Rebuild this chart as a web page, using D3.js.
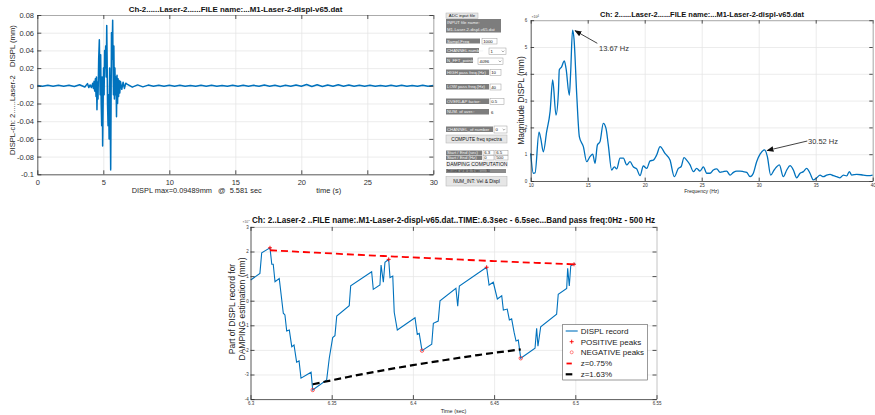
<!DOCTYPE html>
<html>
<head>
<meta charset="utf-8">
<script src="https://cdn.jsdelivr.net/npm/d3@7"></script>
<style>
  body { margin: 0; background: #fff; }
  svg { display: block; }
</style>
</head>
<body>
<svg id="c" width="875" height="415"></svg>
<script>
// ---------------- Data ----------------
// Channel 2 displacement record (time s, displacement mm)
const traceQuietPre = [
  [0,0.0004],[0.4,-0.0005],[0.8,0.0006],[1.2,-0.0004],[1.6,0.0005],[2.0,-0.0006],
  [2.4,0.0007],[2.8,-0.0008],[3.2,0.0012],[3.6,-0.0014],[3.8,0.0025],[3.9,-0.002]
];
const traceBurst = [
  [4.00,0.001],[4.10,-0.002],[4.20,0.003],[4.25,-0.003],[4.30,0.005],[4.35,-0.006],
  [4.40,0.008],[4.45,-0.012],[4.48,0.010],[4.52,-0.027],[4.56,0.004],[4.60,-0.015],
  [4.65,0.030],[4.70,0.052],[4.73,0.020],[4.76,-0.010],[4.80,0.035],[4.84,-0.020],
  [4.88,-0.045],[4.92,0.010],[4.95,-0.068],[4.98,-0.030],[5.02,0.020],[5.06,-0.010],
  [5.10,0.040],[5.14,0.020],[5.18,0.045],[5.22,0.010],[5.26,0.068],[5.29,0.030],
  [5.32,-0.020],[5.36,-0.045],[5.40,-0.010],[5.44,-0.060],[5.48,0.020],[5.52,-0.030],
  [5.56,-0.095],[5.59,-0.020],[5.62,0.060],[5.66,0.030],[5.71,0.074],[5.74,0.020],
  [5.77,-0.010],[5.80,0.045],[5.84,-0.015],[5.88,0.020],[5.92,-0.010],[5.96,0.010],
  [6.00,-0.035],[6.04,0.012],[6.08,-0.020],[6.12,0.008],[6.16,-0.012],[6.20,0.006],
  [6.25,-0.008],[6.30,0.005],[6.40,-0.004],[6.50,0.004],[6.60,-0.003],[6.70,0.003]
];
const traceQuietPost = [
  [6.8,0.002],[7.2,-0.0015],[7.6,0.001],[8.0,-0.0012],[8.4,0.0008],[8.8,-0.0006],
  [9.2,0.0007],[9.6,-0.0005],[10.0,0.0006],[10.4,-0.0004],[10.8,0.0005],[11.2,-0.0006],
  [11.6,0.0004],[12.0,-0.0005],[12.4,0.0006],[12.8,-0.0004],[13.2,0.0005],[13.6,-0.0006],
  [14.0,0.0004],[14.4,-0.0005],[14.8,0.0006],[15.2,-0.0005],[15.6,0.0007],[16.0,-0.0004],
  [16.4,0.0005],[16.8,-0.0006],[17.2,0.0008],[17.6,-0.0005],[18.0,0.0006],[18.4,-0.0007],
  [18.8,0.0005],[19.2,-0.0004],[19.6,0.0009],[20.0,-0.0006],[20.4,0.0015],[20.8,-0.0008],
  [21.2,0.0012],[21.6,-0.0007],[22.0,0.0010],[22.4,-0.0006],[22.8,0.0011],[23.2,-0.0005],
  [23.6,0.0008],[24.0,-0.0006],[24.4,0.0005],[24.8,-0.0004],[25.2,0.0005],[25.6,-0.0006],
  [26.0,0.0004],[26.4,-0.0005],[26.8,0.0006],[27.2,-0.0004],[27.6,0.0005],[28.0,-0.0005],
  [28.4,0.0004],[28.8,-0.0006],[29.2,0.0005],[29.6,-0.0004],[30.0,0.0003]
];
const timeTicks = [0, 5, 10, 15, 20, 25, 30];
const displTicks = [-0.1, -0.08, -0.06, -0.04, -0.02, 0, 0.02, 0.04, 0.06, 0.08];

// Amplitude spectrum (Hz, magnitude x1e-4 mm)
const specFreq = [10.00,10.23,10.38,10.73,10.88,11.11,11.40,11.70,11.93,12.22,12.43,12.51,12.70,12.95,13.10,13.39,13.50,13.67,13.80,14.04,
  14.27,14.62,14.91,15.20,15.44,15.64,15.85,16.08,16.37,16.60,16.81,17.10,17.34,17.54,17.84,18.13,18.42,18.71,19.00,19.30,
  19.59,19.88,20.18,20.47,20.76,21.05,21.35,21.78,22.22,22.60,22.95,23.19,23.45,23.68,23.98,24.27,24.56,24.85,25.15,25.44,
  25.73,26.02,26.32,26.61,26.90,27.19,27.49,27.78,28.07,28.36,28.65,28.95,29.24,29.53,29.82,30.12,30.52,30.76,31.05,31.35,
  31.58,31.81,32.16,32.46,32.75,33.04,33.33,33.63,33.92,34.21,34.50,34.80,35.09,35.38,35.67,35.96,36.26,36.55,36.84,37.13,
  37.43,37.72,37.95,38.16,38.60,39.18,39.62,40.00];
const specMag = [1.03,0.29,0.30,1.82,1.59,1.09,1.84,2.59,3.77,2.46,3.30,4.15,4.25,4.48,4.20,3.20,4.00,5.63,5.30,3.20,
  1.65,1.28,0.72,0.91,1.00,0.66,1.34,1.47,2.15,1.97,1.34,0.41,0.53,0.45,0.85,0.85,0.60,0.72,0.53,0.45,
  0.20,0.56,0.47,0.75,0.78,0.97,1.28,1.03,0.78,0.16,0.47,0.53,0.87,0.78,0.60,0.35,0.47,0.37,0.53,0.29,
  0.29,0.41,0.45,0.32,0.35,0.37,0.22,0.32,0.37,0.37,0.35,0.32,0.16,0.29,0.72,1.00,1.16,0.91,0.22,0.41,
  0.53,0.60,0.16,0.41,0.57,0.41,0.12,0.29,0.35,0.47,0.29,0.04,0.12,0.22,0.16,0.22,0.25,0.20,0.16,0.12,
  0.22,0.19,0.35,0.22,0.25,0.22,0.20,0.22];
const freqTicks = [10, 15, 20, 25, 30, 35, 40];
const magTicks = [0, 1, 2, 3, 4, 5, 6];
const peakMarks = [{f: 13.67, m: 5.63, label: '13.67 Hz'}, {f: 30.52, m: 1.16, label: '30.52 Hz'}];

// Damping window 6.3 - 6.5 s (time s, displacement x1e-3 mm)
const winTime = [6.3001,6.3058,6.3069,6.3120,6.3131,6.3140,6.3151,6.3177,6.3202,6.3212,6.3223,6.3239,6.3254,6.3268,6.3284,6.3299,
  6.3311,6.3373,6.3383,6.3469,6.3485,6.3506,6.3520,6.3531,6.3608,6.3617,6.3746,6.3756,6.3797,6.3804,6.3818,6.3828,6.3851,
  6.3859,6.3876,6.3885,6.3904,6.4013,6.4027,6.4039,6.4056,6.4116,6.4126,6.4156,6.4167,6.4265,6.4276,6.4286,6.4454,6.4469,
  6.4495,6.4520,6.4547,6.4557,6.4581,6.4594,6.4608,6.4623,6.4635,6.4649,6.4664,6.4752,6.4762,6.4770,6.4787,6.4885,6.4895,
  6.4947,6.4953,6.4963,6.4972,6.4992,6.4998];
const winDispl = [0.84,1.11,1.95,2.15,1.48,1.48,0.77,0.90,-0.51,-0.58,-1.23,-1.19,-1.87,-1.80,-2.50,-2.45,
  -3.15,-2.91,-3.63,-3.22,-2.34,-1.50,-1.42,-0.62,-0.20,0.61,1.18,0.46,0.64,1.45,0.75,1.56,1.68,
  0.94,1.00,-0.47,-1.19,-0.69,-1.37,-1.33,-2.03,-1.77,-0.92,-0.83,0.00,0.50,-0.22,0.60,1.36,0.64,
  0.75,0.07,0.20,-0.38,-0.34,-0.78,-0.74,-1.28,-1.64,-1.60,-2.34,-1.93,-1.12,-1.85,-1.06,-0.55,0.26,
  0.50,1.32,0.60,1.42,1.48,1.52];
const posPeakTime = [6.3120, 6.3851, 6.4454, 6.4992];
const posPeakVal  = [2.15, 1.68, 1.36, 1.48];
const negPeakTime = [6.3383, 6.4056, 6.4664];
const negPeakVal  = [-3.63, -2.03, -2.34];
const envPosTime = [6.312, 6.35, 6.40, 6.45, 6.4992];
const envPosVal  = [2.05, 1.92, 1.76, 1.61, 1.48];
const envNegTime = [6.3383, 6.36, 6.38, 6.40, 6.42, 6.44, 6.4664];
const envNegVal  = [-3.40, -3.10, -2.85, -2.62, -2.41, -2.21, -1.98];
const winTimeTicks = [6.3, 6.35, 6.4, 6.45, 6.5, 6.55];
const winDisplTicks = [-4, -3, -2, -1, 0, 1, 2, 3];
const legendItems = ['DISPL record', 'POSITIVE peaks', 'NEGATIVE peaks', 'z=0.75%', 'z=1.63%'];

// ---------------- Drawing helpers ----------------
const svg = d3.select('#c');
const FONT = '"Liberation Sans", Arial, Helvetica, sans-serif';
const BLUE = '#0072bd';
const INK = '#262626';
const GRID = '#e4e4e4';

function text(g, str, x, y, size, o = {}) {
  const t = g.append('text').attr('x', x).attr('y', y).text(str)
    .attr('font-family', FONT).attr('font-size', size)
    .attr('fill', o.fill || INK).attr('text-anchor', o.anchor || 'start');
  if (o.bold) t.attr('font-weight', 'bold');
  if (o.rotate) t.attr('transform', `rotate(-90,${x},${y})`);
  if (o.width) {
    const L = t.node().getComputedTextLength();
    if (L > 0) t.attr('font-size', size * o.width / L);
  }
  return t;
}

// MATLAB-style axes: grid underneath, inward ticks on all four sides
function drawGrid(g, x, y, xt, yt) {
  const [l, r] = x.range(), [b, t] = y.range();
  g.append('g').attr('transform', `translate(0,${b})`)
    .call(d3.axisBottom(x).tickValues(xt).tickSize(-(b - t)).tickFormat(''))
    .call(a => { a.select('.domain').remove(); a.selectAll('line').attr('stroke', GRID).attr('stroke-width', 0.7); });
  g.append('g').attr('transform', `translate(${l},0)`)
    .call(d3.axisLeft(y).tickValues(yt).tickSize(-(r - l)).tickFormat(''))
    .call(a => { a.select('.domain').remove(); a.selectAll('line').attr('stroke', GRID).attr('stroke-width', 0.7); });
}

function drawFrame(g, x, y, o) {
  const [l, r] = x.range(), [b, t] = y.range();
  const tl = o.tickLen;
  const style = (a, col) => {
    a.select('.domain').attr('stroke', col).attr('stroke-width', o.lw || 0.8);
    a.selectAll('.tick line').attr('stroke', INK).attr('stroke-width', 0.8);
    a.selectAll('text').attr('font-family', FONT).attr('font-size', o.fs).attr('fill', o.labCol || '#333');
  };
  g.append('g').attr('transform', `translate(0,${t})`)
    .call(d3.axisTop(x).tickValues(o.xt).tickSizeInner(-tl).tickSizeOuter(0).tickFormat(''))
    .call(a => style(a, o.boxCol));
  g.append('g').attr('transform', `translate(${r},0)`)
    .call(d3.axisRight(y).tickValues(o.yt).tickSizeInner(-tl).tickSizeOuter(0).tickFormat(''))
    .call(a => style(a, o.boxCol));
  g.append('g').attr('transform', `translate(0,${b})`)
    .call(d3.axisBottom(x).tickValues(o.xt).tickSizeInner(-tl).tickSizeOuter(0).tickPadding(o.xPad).tickFormat(o.xf))
    .call(a => style(a, o.axCol));
  g.append('g').attr('transform', `translate(${l},0)`)
    .call(d3.axisLeft(y).tickValues(o.yt).tickSizeInner(-tl).tickSizeOuter(0).tickPadding(o.yPad).tickFormat(o.yf))
    .call(a => style(a, o.axCol));
}

const numFmt = d => String(+d.toFixed(4));

// ---------------- Time record ----------------
{
  const g = svg.append('g');
  const x = d3.scaleLinear().domain([0, 30]).range([37.3, 433.3]);
  const y = d3.scaleLinear().domain([-0.1, 0.08]).range([174.3, 15]);
  drawGrid(g, x, y, timeTicks, displTicks);
  const trace = traceQuietPre.concat(traceBurst, traceQuietPost);
  g.append('path').datum(trace)
    .attr('d', d3.line().x(d => x(d[0])).y(d => y(d[1])))
    .attr('fill', 'none').attr('stroke', BLUE).attr('stroke-width', 1.5).attr('stroke-linejoin', 'round');
  drawFrame(g, x, y, { xt: timeTicks, yt: displTicks, tickLen: 4, fs: 7.5, xPad: 5, yPad: 3.3,
    xf: numFmt, yf: numFmt, axCol: '#3a3a3a', boxCol: '#9a9a9a' });
  text(g, 'Ch-2......Laser-2......FILE name:...M1-Laser-2-displ-v65.dat', 235.5, 11.8, 8, { bold: true, anchor: 'middle', width: 214, fill: '#111' });
  text(g, 'DISPL-ch: 2......Laser-2', 14.6, 155, 8.5, { rotate: true, width: 80 });
  text(g, 'DISPL (mm)', 14.6, 67, 8.5, { rotate: true, width: 42 });
  text(g, 'DISPL max=0.09489mm   @  5.581 sec', 131.7, 192.5, 7.5, { width: 124 }).style('white-space', 'pre');
  text(g, 'time (s)', 328.7, 192.5, 7.5, { anchor: 'middle' });
}

// ---------------- Control panel ----------------
{
  const g = svg.append('g');
  const FS = 4.3;
  const box = (x, yy, w, h, fill, stroke) => g.append('rect').attr('x', x).attr('y', yy).attr('width', w).attr('height', h)
    .attr('fill', fill).attr('stroke', stroke || 'none').attr('stroke-width', 0.5);
  const dark = (x, yy, w, h, s) => { box(x, yy, w, h, '#7d7d7d'); text(g, s, x + 1, yy + h / 2 + 1.5, FS, { fill: '#f2f2f2' }); };
  const edit = (x, yy, w, h, s) => { box(x, yy, w, h, '#fff', '#9a9a9a'); text(g, s, x + 1.2, yy + h / 2 + 1.5, FS, { fill: '#111' }); };
  const popup = (x, yy, w, h, s) => {
    box(x, yy, w, h, '#fff', '#9a9a9a'); text(g, s, x + 1.5, yy + h / 2 + 1.5, FS, { fill: '#111' });
    const ax = x + w - 3, ay = yy + h / 2;
    g.append('path').attr('d', `M${ax - 1.3},${ay - 0.6}L${ax},${ay + 0.7}L${ax + 1.3},${ay - 0.6}`).attr('fill', 'none').attr('stroke', '#555').attr('stroke-width', 0.5);
  };
  const button = (x, yy, w, h, s, fs) => { box(x, yy, w, h, '#e6e6e6', '#b0b0b0'); text(g, s, x + w / 2, yy + h / 2 + (fs || FS) * 0.35, fs || FS, { anchor: 'middle', fill: '#111' }); };

  button(446, 13, 32, 5.5, 'ADC input file');
  box(446, 19, 55, 13.5, '#7d7d7d');
  text(g, 'INPUT file name:', 447, 24, FS, { fill: '#f2f2f2' });
  text(g, 'M1-Laser-2-displ-v65.dat', 447, 30.5, FS, { fill: '#f2f2f2' });
  dark(446, 38.5, 34, 5, 'Sampl.Freq'); edit(482, 38.5, 15, 5.5, '1000');
  dark(446, 48, 33, 5, 'CHANNEL number'); popup(489, 48, 17, 6.5, '1');
  dark(446, 57.5, 27, 5.5, 'N_FFT_points'); popup(478, 58, 25, 6.5, '4096');
  dark(446, 69.5, 43, 5.5, 'HIGH pass freq.(Hz)'); edit(490, 69.5, 11, 6, '10');
  dark(446, 84, 43, 5.5, 'LOW pass freq.(Hz)'); edit(490, 84, 11, 6, '40');
  dark(446, 98.5, 43, 5.5, 'OVERLAP factor:'); edit(490, 98.5, 14, 6, '0.5');
  dark(446, 109, 43, 5.5, 'NUM. of aver.:'); text(g, '6', 491, 113.5, FS, { fill: '#111' });
  dark(446, 126.5, 47, 5.5, 'CHANNEL_of number'); popup(494, 126, 13, 7, '0');
  button(446, 135, 61, 8, 'COMPUTE freq spectra', 4.8);
  dark(446, 150.5, 36, 4.5, 'Start / End (sec)'); edit(483, 150.5, 11, 4.5, '6.3'); edit(495, 150.5, 13, 4.5, '6.5');
  dark(446, 155.5, 36, 4.5, 'Start / End (Hz)'); edit(483, 155.5, 11, 4.5, '0'); edit(495, 155.5, 13, 4.5, '500');
  box(446, 161, 62, 6.5, '#f0f0f0');
  text(g, 'DAMPING COMPUTATION', 477, 166.4, 6, { anchor: 'middle', fill: '#111', width: 61 });
  box(446, 169, 60, 4, '#8c8c8c');
  text(g, 'Int.cond. at st: 0 - 5 sec ..... 30', 447, 172, 3.2, { fill: '#222' });
  button(446, 176.5, 61, 9.5, 'NUM_INT: Vel & Displ', 4.8);
}

// ---------------- Spectrum ----------------
{
  const g = svg.append('g');
  const x = d3.scaleLinear().domain([10, 40]).range([530.7, 872.7]);
  const y = d3.scaleLinear().domain([0, 6]).range([181, 20.2]);
  drawGrid(g, x, y, freqTicks, magTicks);
  const pts = specFreq.map((f, i) => [f, specMag[i]]);
  g.append('path').datum(pts)
    .attr('d', d3.line().curve(d3.curveMonotoneX).x(d => x(d[0])).y(d => y(d[1])))
    .attr('fill', 'none').attr('stroke', BLUE).attr('stroke-width', 1.3);
  drawFrame(g, x, y, { xt: freqTicks, yt: magTicks, tickLen: 3.4, fs: 4.5, xPad: 2.4, yPad: 3.4,
    xf: numFmt, yf: numFmt, axCol: '#3a3a3a', boxCol: '#9a9a9a' });
  text(g, '\u00d710', 531.5, 18.3, 3.6, { fill: '#444' });
  text(g, '-4', 536.6, 16.6, 2.6, { fill: '#444' });
  text(g, 'Ch: 2......Laser-2......FILE name:...M1-Laser-2-displ-v65.dat', 702, 17.4, 8, { bold: true, anchor: 'middle', width: 204, fill: '#111' });
  text(g, 'Magnitude DISPL (mm)', 523.8, 100.5, 8.5, { rotate: true, anchor: 'middle' });
  text(g, 'Frequency (Hz)', 701.6, 192.5, 5.5, { anchor: 'middle', width: 35 });

  // peak annotations
  const defs = svg.append('defs');
  defs.append('marker').attr('id', 'ah').attr('viewBox', '0 0 10 10').attr('refX', 9).attr('refY', 5)
    .attr('markerWidth', 7).attr('markerHeight', 7).attr('markerUnits', 'userSpaceOnUse').attr('orient', 'auto')
    .append('path').attr('d', 'M0,1L10,5L0,9Z').attr('fill', '#111');
  const tails = [[597.3, 43.3], [807.3, 141]];
  const textPos = [[599, 50.5], [808, 143.6]];
  peakMarks.forEach((p, i) => {
    g.append('line').attr('x1', tails[i][0]).attr('y1', tails[i][1])
      .attr('x2', x(p.f) + 2.5).attr('y2', y(p.m) + 0.6)
      .attr('stroke', '#111').attr('stroke-width', 0.8).attr('marker-end', 'url(#ah)');
    text(g, p.label, textPos[i][0], textPos[i][1], 7.5, { fill: '#333' });
  });
}

// ---------------- Damping window ----------------
{
  const g = svg.append('g');
  const x = d3.scaleLinear().domain([6.3, 6.55]).range([250.5, 656.5]);
  const y = d3.scaleLinear().domain([-4, 3]).range([399.1, 226.9]);
  drawGrid(g, x, y, winTimeTicks, winDisplTicks);
  const line = d3.line().x(d => x(d[0])).y(d => y(d[1]));
  g.append('path').datum(winTime.map((t, i) => [t, winDispl[i]]))
    .attr('d', line).attr('fill', 'none').attr('stroke', BLUE).attr('stroke-width', 1.1);
  g.append('path').datum(envPosTime.map((t, i) => [t, envPosVal[i]]))
    .attr('d', line.curve(d3.curveMonotoneX)).attr('fill', 'none').attr('stroke', '#ff0000')
    .attr('stroke-width', 1.8).attr('stroke-dasharray', '7,4');
  g.append('path').datum(envNegTime.map((t, i) => [t, envNegVal[i]]))
    .attr('d', line.curve(d3.curveMonotoneX)).attr('fill', 'none').attr('stroke', '#000')
    .attr('stroke-width', 2.2).attr('stroke-dasharray', '7,4');
  const plus = (cx, cy, s) => g.append('path').attr('d', `M${cx - s},${cy}H${cx + s}M${cx},${cy - s}V${cy + s}`)
    .attr('stroke', '#ff0000').attr('stroke-width', 0.9);
  posPeakTime.forEach((t, i) => plus(x(t), y(posPeakVal[i]), 2));
  negPeakTime.forEach((t, i) => g.append('circle').attr('cx', x(t)).attr('cy', y(negPeakVal[i])).attr('r', 1.7)
    .attr('fill', 'none').attr('stroke', '#ff3030').attr('stroke-width', 0.8));
  drawFrame(g, x, y, { xt: winTimeTicks, yt: winDisplTicks, tickLen: 4, fs: 4.5, xPad: 3.1, yPad: 1.8,
    xf: numFmt, yf: numFmt, axCol: '#3a3a3a', boxCol: '#c4c4c4' });
  text(g, '\u00d710', 242.5, 222.5, 3.4, { fill: '#555' });
  text(g, '-3', 247.3, 220.9, 2.5, { fill: '#555' });
  text(g, 'Ch: 2..Laser-2 ..FILE name:.M1-Laser-2-displ-v65.dat..TIME:.6.3sec - 6.5sec...Band pass freq:0Hz - 500 Hz',
    453.5, 222.8, 8, { bold: true, anchor: 'middle', width: 404, fill: '#111' });
  text(g, 'Part of DISPL record for', 234.7, 309, 8.5, { rotate: true, anchor: 'middle' });
  text(g, 'DAMPING estimation (mm)', 244.7, 309, 8.5, { rotate: true, anchor: 'middle' });
  text(g, 'Time (sec)', 453.5, 413, 5.5, { anchor: 'middle', width: 25.7 });

  // legend
  const lg = g.append('g');
  lg.append('rect').attr('x', 562.7).attr('y', 324.3).attr('width', 84.6).attr('height', 55.7)
    .attr('fill', '#fff').attr('stroke', '#555').attr('stroke-width', 0.6);
  const rows = [331, 341.7, 352.3, 363.5, 374.3];
  lg.append('line').attr('x1', 565.7).attr('x2', 577.7).attr('y1', rows[0]).attr('y2', rows[0]).attr('stroke', BLUE).attr('stroke-width', 1.1);
  lg.append('path').attr('d', `M${571.7 - 2},${rows[1]}H${571.7 + 2}M571.7,${rows[1] - 2}V${rows[1] + 2}`).attr('stroke', '#ff0000').attr('stroke-width', 0.9);
  lg.append('circle').attr('cx', 571.7).attr('cy', rows[2]).attr('r', 1.5).attr('fill', 'none').attr('stroke', '#ff5050').attr('stroke-width', 0.7);
  lg.append('line').attr('x1', 566.5).attr('x2', 571.8).attr('y1', rows[3]).attr('y2', rows[3]).attr('stroke', '#ff0000').attr('stroke-width', 1.8);
  lg.append('line').attr('x1', 565.7).attr('x2', 572.3).attr('y1', rows[4]).attr('y2', rows[4]).attr('stroke', '#000').attr('stroke-width', 2.2);
  legendItems.forEach((s, i) => text(lg, s, 580.7, rows[i] + 2.9, 8, { fill: '#222' }));
}
</script>
</body>
</html>
